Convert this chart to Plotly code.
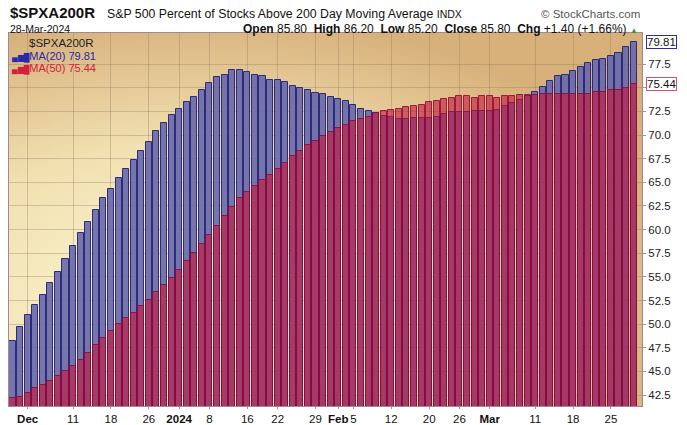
import base64
import pandas as pd
import plotly.graph_objects as go

# ---------------- data ----------------
holidays = ["2023-12-25", "2024-01-01", "2024-01-15", "2024-02-19"]
dates = [d.strftime("%Y-%m-%d") for d in pd.bdate_range("2023-11-29", "2024-03-28")
         if d.strftime("%Y-%m-%d") not in holidays]

ma20 = [48.2, 49.7, 51.0, 52.0, 53.1, 54.3, 55.5, 56.9, 58.3, 59.6,
        60.8, 62.1, 63.3, 64.3, 65.5, 66.4, 67.4, 68.3, 69.3, 70.4,
        71.3, 72.1, 72.8, 73.5, 74.0, 74.8, 75.5, 76.1, 76.4, 76.9,
        76.9, 76.7, 76.4, 76.2, 75.8, 75.8, 75.6, 75.2, 75.0, 74.8,
        74.5, 74.3, 74.0, 73.8, 73.6, 73.2, 72.8, 72.6, 72.3, 72.0,
        71.9, 71.7, 71.7, 71.8, 71.8, 71.8, 71.9, 72.2, 72.4, 72.4,
        72.4, 72.6, 72.6, 72.5, 72.7, 73.1, 73.4, 73.7, 74.1, 74.6,
        75.1, 75.7, 76.2, 76.4, 76.8, 77.2, 77.6, 77.9, 78.1, 78.4,
        78.7, 79.3, 79.81]

ma50 = [42.2, 42.3, 42.7, 43.2, 43.6, 44.0, 44.5, 45.0, 45.6, 46.2,
        46.9, 47.8, 48.5, 49.3, 50.0, 50.6, 51.2, 51.9, 52.6, 53.4,
        54.1, 54.9, 55.7, 56.7, 57.5, 58.5, 59.4, 60.4, 61.4, 62.4,
        63.3, 64.0, 64.6, 65.2, 65.8, 66.4, 67.0, 67.8, 68.3, 68.9,
        69.4, 69.9, 70.3, 70.7, 71.1, 71.5, 71.7, 71.9, 72.3, 72.5,
        72.7, 72.8, 73.0, 73.1, 73.2, 73.5, 73.6, 73.8, 73.9, 74.1,
        74.1, 73.9, 74.1, 74.1, 73.9, 74.1, 74.1, 74.2, 74.2, 74.2,
        74.3, 74.3, 74.3, 74.3, 74.3, 74.4, 74.4, 74.6, 74.6, 74.8,
        74.8, 75.0, 75.44]

tick_dates = ["2023-12-01", "2023-12-11", "2023-12-18", "2023-12-26", "2024-01-02",
              "2024-01-08", "2024-01-16", "2024-01-22", "2024-01-29", "2024-02-01",
              "2024-02-05", "2024-02-12", "2024-02-20", "2024-02-26", "2024-03-01",
              "2024-03-11", "2024-03-18", "2024-03-25"]
tick_labels = ["<b>Dec</b>", "11", "18", "26", "<b>2024</b>", "8", "16", "22", "29",
               "<b>Feb</b>", "5", "12", "20", "26", "<b>Mar</b>", "11", "18", "25"]

y_ticks = [42.5, 45.0, 47.5, 50.0, 52.5, 55.0, 57.5, 60.0, 62.5, 65.0, 67.5,
           70.0, 72.5, 75.0, 77.5]
y_hidden = [75.0]  # covered by the MA(50) last-value tag

# ---------------- figure ----------------
FONT = "Liberation Sans, Arial, sans-serif"
W, H = 687, 425
ML, MR, MT, MB = 9, 45, 33, 19
PW, PH = W - ML - MR, H - MT - MB


def px_x(px):
    return (px - ML) / PW


def px_y(py):
    return (H - MB - py) / PH


fig = go.Figure()
fig.add_trace(go.Bar(
    x=dates, y=ma20, name="MA(20)", width=0.8,
    marker=dict(color="rgba(106,106,172,0.92)",
                line=dict(color="#2c2c78", width=1)),
))
fig.add_trace(go.Bar(
    x=dates, y=ma50, name="MA(50)", width=0.8,
    marker=dict(color="rgba(198,18,60,0.6)",
                line=dict(color="rgba(140,10,50,0.85)", width=1)),
))

svg = ("<svg xmlns='http://www.w3.org/2000/svg' width='633' height='373' "
       "preserveAspectRatio='none'><defs><radialGradient id='g' cx='0.3' cy='0.72' r='0.78'>"
       "<stop offset='0' stop-color='#fdf8d6'/><stop offset='0.55' stop-color='#f1e0b0'/>"
       "<stop offset='1' stop-color='#d7b07a'/></radialGradient></defs>"
       "<rect width='633' height='373' fill='url(#g)'/></svg>")
bg_src = "data:image/svg+xml;base64," + base64.b64encode(svg.encode()).decode()

ann = []
ann.append(dict(text="<b>$SPXA200R</b>", x=px_x(8), y=px_y(13), xref="paper", yref="paper",
                xanchor="left", yanchor="middle", showarrow=False,
                font=dict(family=FONT, size=15, color="#111")))
ann.append(dict(text="S&P 500 Percent of Stocks Above 200 Day Moving Average "
                     "<span style='font-size:10.5px'>INDX</span>",
                x=px_x(105), y=px_y(14), xref="paper", yref="paper",
                xanchor="left", yanchor="middle", showarrow=False,
                font=dict(family=FONT, size=12.3, color="#111")))
ann.append(dict(text="© StockCharts.com", x=px_x(642), y=px_y(14), xref="paper", yref="paper",
                xanchor="right", yanchor="middle", showarrow=False,
                font=dict(family=FONT, size=11.5, color="#555")))
ann.append(dict(text="28-Mar-2024", x=px_x(8), y=px_y(29), xref="paper", yref="paper",
                xanchor="left", yanchor="middle", showarrow=False,
                font=dict(family=FONT, size=10.5, color="#111")))
ann.append(dict(text="<b>Open</b> 85.80  <b>High</b> 86.20  <b>Low</b> 85.20  "
                     "<b>Close</b> 85.80  <b>Chg</b> +1.40 (+1.66%) "
                     "<span style='color:#2e9e3a;font-size:8px'>▲</span>",
                x=px_x(640), y=px_y(29), xref="paper", yref="paper",
                xanchor="right", yanchor="middle", showarrow=False,
                font=dict(family=FONT, size=12, color="#111")))
# in-plot legend
ann.append(dict(text="$SPXA200R", x=px_x(27), y=px_y(43), xref="paper", yref="paper",
                xanchor="left", yanchor="middle", showarrow=False,
                font=dict(family=FONT, size=11.5, color="#222")))
ann.append(dict(text="<span style='font-size:8px'>▄▆█</span>MA(20) 79.81",
                x=px_x(10), y=px_y(56), xref="paper", yref="paper",
                xanchor="left", yanchor="middle", showarrow=False,
                font=dict(family=FONT, size=11, color="#2a2aa8")))
ann.append(dict(text="<span style='font-size:8px'>▄▆█</span>MA(50) 75.44",
                x=px_x(10), y=px_y(69), xref="paper", yref="paper",
                xanchor="left", yanchor="middle", showarrow=False,
                font=dict(family=FONT, size=11, color="#d4203c")))
# last value tags
ann.append(dict(text=f"{ma20[-1]:.2f}", x=1, y=ma20[-1], xref="paper", yref="y",
                xanchor="left", yanchor="middle", xshift=4, showarrow=False,
                bgcolor="white", bordercolor="#2b2bb0", borderwidth=1, borderpad=0,
                font=dict(family=FONT, size=11.5, color="#111")))
ann.append(dict(text=f"{ma50[-1]:.2f}", x=1, y=ma50[-1], xref="paper", yref="y",
                xanchor="left", yanchor="middle", xshift=4, showarrow=False,
                bgcolor="white", bordercolor="#e0506a", borderwidth=1, borderpad=0,
                font=dict(family=FONT, size=11.5, color="#111")))

fig.update_layout(
    width=W, height=H,
    margin=dict(l=ML, r=MR, t=MT, b=MB, pad=0, autoexpand=False),
    paper_bgcolor="white", plot_bgcolor="rgba(0,0,0,0)",
    barmode="overlay", bargap=0, showlegend=False,
    font=dict(family=FONT, size=11, color="#111"),
    images=[dict(source=bg_src, xref="paper", yref="paper", x=0, y=1, sizex=1, sizey=1,
                 sizing="stretch", layer="below", xanchor="left", yanchor="top")],
    annotations=ann,
    xaxis=dict(type="category", range=[-0.46, len(dates) + 0.1],
               tickmode="array", tickvals=tick_dates, ticktext=tick_labels, tickangle=0,
               automargin=False,
               showgrid=True, gridcolor="rgba(140,120,100,0.35)", gridwidth=1,
               ticks="outside", ticklen=2, tickcolor="#999",
               showline=True, linecolor="#9a8a9a", linewidth=1, mirror=True,
               tickfont=dict(family=FONT, size=11.5, color="#111"), zeroline=False),
    yaxis=dict(side="right", range=[41.34, 80.8], tickmode="array", tickvals=y_ticks,
               ticktext=["" if v in y_hidden else f"{v:.1f}" for v in y_ticks],
               automargin=False,
               showgrid=True, gridcolor="rgba(140,120,100,0.35)", gridwidth=1,
               ticks="outside", ticklen=3, tickcolor="#999",
               showline=True, linecolor="#9a8a9a", linewidth=1, mirror=True,
               tickfont=dict(family=FONT, size=11.5, color="#222"), zeroline=False),
)

fig.write_html("out.html", config={"displayModeBar": False},
               post_script="document.body.style.margin='0px';document.body.style.overflow='hidden';")
